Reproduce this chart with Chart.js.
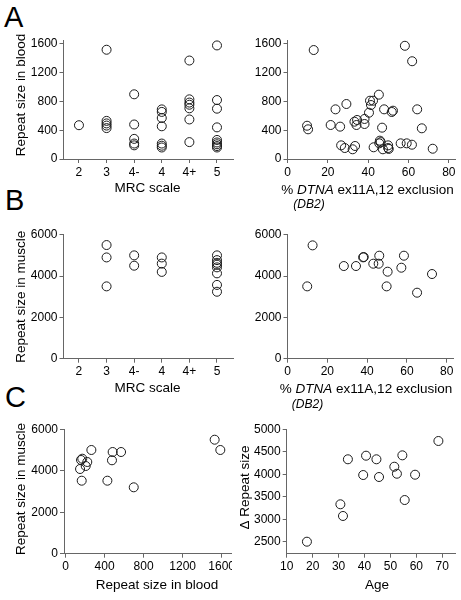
<!DOCTYPE html>
<html>
<head>
<meta charset="utf-8">
<script src="https://cdn.jsdelivr.net/npm/chart.js@4.4.1/dist/chart.umd.min.js"></script>
<style>
  html, body { margin: 0; padding: 0; background: #fff; }
  body { width: 461px; height: 600px; position: relative; overflow: hidden; }
  .panel { position: absolute; overflow: hidden; }
  .panel canvas { display: block; }
  .letter { position: absolute; font-family: "Liberation Sans", Arial, sans-serif; font-size: 29px; line-height: 1; color: #000; }
</style>
</head>
<body>
<div class="letter" style="left:4px;top:3px">A</div>
<div class="letter" style="left:5px;top:186px">B</div>
<div class="letter" style="left:5px;top:383px">C</div>
<script>
"use strict";

// ---- data ----
const mrcLabels = ["2", "3", "4-", "4", "4+", "5"];
const bloodByMrc = [
  [470],
  [1520, 530, 495, 465, 430],
  [900, 480, 280, 215, 190],
  [690, 655, 570, 455, 215, 185, 160],
  [1370, 830, 785, 755, 705, 550, 235],
  [1580, 820, 700, 440, 265, 230, 205, 180, 160],
];
const muscleByMrc = [
  [],
  [5500, 4900, 3500],
  [5000, 4500],
  [4900, 4600, 4200],
  [],
  [5000, 4770, 4640, 4550, 4420, 4130, 3570, 3240],
];

// % DTNA ex11A,12 exclusion vs repeat size in blood
const exclusionBlood = [9.7, 10.2, 13, 21.4, 23.8, 26.1, 29.2, 26.6, 28.4, 32.3, 33.5, 33.2, 34.5, 34.2,
  38.2, 38.2, 40.4, 41.4, 40.9, 42.4, 45.3, 46.9, 42.7, 45.8, 45.5, 46.2, 47.9, 47.3, 49.9, 49.9, 50.2,
  51.7, 52.3, 56.1, 58.2, 59.1, 61.7, 61.8, 64.3, 66.6, 72];
const bloodVsExclusion = [463, 413, 1516, 473, 691, 450, 765, 190, 153, 135, 181, 519, 543, 473,
  557, 487, 644, 751, 811, 811, 895, 436, 163, 255, 218, 235, 691, 135, 190, 153, 140,
  654, 672, 218, 1575, 218, 199, 1360, 691, 427, 143];

// % DTNA ex11A,12 exclusion vs repeat size in muscle
const exclusionMuscle = [12.6, 9.9, 28.3, 34.4, 38, 38.3, 43.1, 45.8, 46.1, 50.3, 49.8, 57.2, 58.5, 72.6, 65.1];
const muscleVsExclusion = [5484, 3500, 4484, 4484, 4903, 4920, 4597, 4597, 4984, 4210, 3500, 4403, 4984, 4097, 3194];

// repeat size in blood vs muscle
const bloodSize = [166, 149, 159, 172, 207, 223, 265, 429, 476, 483, 569, 699, 1528, 1586];
const muscleSize = [3521, 4085, 4519, 4582, 4230, 4423, 5002, 3521, 4505, 4905, 4905, 3202, 5498, 5002];

// age vs delta repeat size
const ages = [17.8, 30.7, 31.7, 33.6, 39.5, 40.6, 44.6, 45.6, 51.5, 52.5, 54.6, 55.5, 59.5, 68.5];
const deltaRepeat = [2500, 3332, 3072, 4333, 3983, 4413, 4333, 3939, 4168, 4012, 4421, 3427, 3990, 4740];

// tick values
const bloodTicks = [0, 400, 800, 1200, 1600];
const muscleTicks = [0, 2000, 4000, 6000];
const exclusionTicks = [0, 20, 40, 60, 80];
const mrcTicks = [1, 2, 3, 4, 5, 6];
const ageTicks = [10, 20, 30, 40, 50, 60, 70];
const deltaTicks = [2500, 3000, 3500, 4000, 4500, 5000];

// ---- drawing ----
const FONT = '"Liberation Sans", Arial, Helvetica, sans-serif';
const AXIS_COLOR = "#666";
const TITLE_SIZE = 13.5;

/**
 * Draws axis captions (supports mixed italic parts)
 */
const captionPlugin = {
  id: "captions",
  afterDraw(chart, args, opts) {
    const ctx = chart.ctx;
    (opts.items || []).forEach(item => {
      ctx.save();
      ctx.translate(item.x, item.y);
      if (item.rotate) ctx.rotate(-Math.PI / 2);
      ctx.textBaseline = "middle";
      ctx.textAlign = "left";
      ctx.fillStyle = "#000";
      const fontOf = p => `${p.italic ? "italic " : ""}${item.size}px ${FONT}`;
      let total = 0;
      item.parts.forEach(p => { ctx.font = fontOf(p); total += ctx.measureText(p.text).width; });
      let x = -total / 2;
      item.parts.forEach(p => {
        ctx.font = fontOf(p);
        ctx.fillText(p.text, x, 0);
        x += ctx.measureText(p.text).width;
      });
      ctx.restore();
    });
  },
};

function linearAxis(min, max, tickValues, size, format) {
  return {
    type: "linear",
    min: min,
    max: max,
    afterBuildTicks: s => { s.ticks = tickValues.map(v => ({ value: v })); },
    afterFit: s => { if (s.isHorizontal()) s.height = size; else s.width = size; },
    border: { display: true, color: AXIS_COLOR, width: 1 },
    grid: { display: true, drawOnChartArea: false, drawTicks: true, tickLength: 4, color: AXIS_COLOR, tickColor: AXIS_COLOR },
    ticks: {
      autoSkip: false, maxRotation: 0, minRotation: 0, padding: 2, color: "#000",
      font: { family: FONT, size: 12 },
      callback: format || (v => String(v)),
    },
  };
}

function makePanel(spec) {
  const b = spec.box, a = spec.area;
  const holder = document.createElement("div");
  holder.className = "panel";
  holder.style.left = b.left + "px";
  holder.style.top = b.top + "px";
  holder.style.width = (spec.clipWidth || b.width) + "px";
  holder.style.height = b.height + "px";
  const canvas = document.createElement("canvas");
  canvas.width = b.width;
  canvas.height = b.height;
  holder.appendChild(canvas);
  document.body.appendChild(holder);

  const yW = a.l - b.left;
  const padTop = a.t - b.top;
  const padRight = b.left + b.width - a.r;
  const xH = b.top + b.height - a.b;
  const items = spec.captions.map(c => Object.assign({}, c, { x: c.x - b.left, y: c.y - b.top }));

  return new Chart(canvas, {
    type: "scatter",
    data: {
      datasets: [{
        data: spec.points,
        pointRadius: 4.5,
        pointHoverRadius: 4.5,
        pointBorderWidth: 1,
        pointBorderColor: "#1a1a1a",
        pointBackgroundColor: "rgba(0,0,0,0)",
        showLine: false,
        clip: false,
      }],
    },
    options: {
      responsive: false,
      animation: false,
      devicePixelRatio: 1,
      events: [],
      layout: { padding: { left: 0, top: padTop, right: padRight, bottom: 0 } },
      plugins: {
        legend: { display: false },
        tooltip: { enabled: false },
        captions: { items: items },
      },
      scales: {
        x: Object.assign(linearAxis(spec.x[0], spec.x[1], spec.x[2], xH, spec.x[3]), { position: "bottom" }),
        y: Object.assign(linearAxis(spec.y[0], spec.y[1], spec.y[2], yW, spec.y[3]), { position: "left" }),
      },
    },
    plugins: [captionPlugin],
  });
}

const zip = (xs, ys) => xs.map((x, i) => ({ x: x, y: ys[i] }));
const byMrc = groups => groups.flatMap((vals, i) => vals.map(v => ({ x: i + 1, y: v })));
const mrcFormat = v => mrcLabels[v - 1] || "";
const dtnaTitle = [{ text: "% " }, { text: "DTNA", italic: true }, { text: " ex11A,12 exclusion" }];

// A left
makePanel({
  box: { left: 0, top: 0, width: 240, height: 200 },
  area: { l: 63.5, r: 233, t: 40.4, b: 159 },
  x: [0.44, 6.58, mrcTicks, mrcFormat],
  y: [0, 1650, bloodTicks],
  points: byMrc(bloodByMrc),
  captions: [
    { x: 21.7, y: 95, rotate: true, size: TITLE_SIZE, parts: [{ text: "Repeat size in blood" }] },
    { x: 147.5, y: 188.5, size: TITLE_SIZE, parts: [{ text: "MRC scale" }] },
  ],
});

// A right
makePanel({
  box: { left: 232, top: 0, width: 229, height: 215 },
  area: { l: 287.5, r: 457, t: 40.4, b: 159 },
  x: [0, 83.3, exclusionTicks],
  y: [0, 1650, bloodTicks],
  points: zip(exclusionBlood, bloodVsExclusion),
  captions: [
    { x: 367.5, y: 190.5, size: TITLE_SIZE, parts: dtnaTitle },
    { x: 309, y: 205, size: 12, parts: [{ text: "(DB2)", italic: true }] },
  ],
});

// B left
makePanel({
  box: { left: 0, top: 200, width: 240, height: 200 },
  area: { l: 63.5, r: 233, t: 234.7, b: 358.7 },
  x: [0.44, 6.58, mrcTicks, mrcFormat],
  y: [0, 6000, muscleTicks],
  points: byMrc(muscleByMrc),
  captions: [
    { x: 21.7, y: 296.7, rotate: true, size: TITLE_SIZE, parts: [{ text: "Repeat size in muscle" }] },
    { x: 147.5, y: 388.5, size: TITLE_SIZE, parts: [{ text: "MRC scale" }] },
  ],
});

// B right
makePanel({
  box: { left: 232, top: 200, width: 229, height: 215 },
  area: { l: 287.5, r: 453.3, t: 234.7, b: 358.7 },
  x: [0, 83.3, exclusionTicks],
  y: [0, 6000, muscleTicks],
  points: zip(exclusionMuscle, muscleVsExclusion),
  captions: [
    { x: 366, y: 389, size: TITLE_SIZE, parts: dtnaTitle },
    { x: 307.5, y: 404.7, size: 12, parts: [{ text: "(DB2)", italic: true }] },
  ],
});

// C left (axis runs on under the right panel, so it is clipped)
makePanel({
  box: { left: 0, top: 400, width: 260, height: 200 },
  clipWidth: 232,
  area: { l: 64, r: 250, t: 429.3, b: 553.7 },
  x: [-15.4, 1890, bloodTicks],
  y: [0, 6000, muscleTicks],
  points: zip(bloodSize, muscleSize),
  captions: [
    { x: 21.7, y: 489, rotate: true, size: TITLE_SIZE, parts: [{ text: "Repeat size in muscle" }] },
    { x: 157, y: 585.5, size: TITLE_SIZE, parts: [{ text: "Repeat size in blood" }] },
  ],
});

// C right
makePanel({
  box: { left: 232, top: 400, width: 229, height: 200 },
  area: { l: 286.7, r: 455, t: 429.3, b: 553.7 },
  x: [10, 74.9, ageTicks],
  y: [2233, 5000, deltaTicks],
  points: zip(ages, deltaRepeat),
  captions: [
    { x: 245, y: 487.5, rotate: true, size: TITLE_SIZE, parts: [{ text: "\u0394 Repeat size" }] },
    { x: 377, y: 585.5, size: TITLE_SIZE, parts: [{ text: "Age" }] },
  ],
});
</script>
</body>
</html>
